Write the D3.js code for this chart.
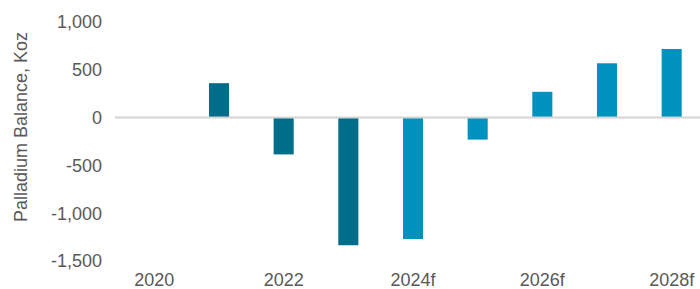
<!DOCTYPE html>
<html>
<head>
<meta charset="utf-8">
<script src="https://cdn.jsdelivr.net/npm/d3@7"></script>
<style>
  body { margin: 0; background: #fff; }
  svg { display: block; font-family: "Liberation Sans", Arial, sans-serif; }
</style>
</head>
<body>
<div id="chart"></div>
<script>
// palladium market balance, Koz (f = forecast)
const years = ['2020', '2021', '2022', '2023', '2024f', '2025f', '2026f', '2027f', '2028f'];
const balance = [0, 360, -385, -1335, -1270, -230, 270, 568, 718];
const isForecast = [false, false, false, false, true, true, true, true, true];
const yTicks = [-1500, -1000, -500, 0, 500, 1000];
const xLabels = ['2020', '2022', '2024f', '2026f', '2028f'];

const width = 700, height = 289;
const margin = { top: 22, right: -4, bottom: 28, left: 122 };

const data = years.map((y, i) => ({ year: y, value: balance[i], fc: isForecast[i] }));

const svg = d3.select('#chart')
  .append('svg')
  .attr('width', width)
  .attr('height', height);

const x = d3.scaleBand()
  .domain(years)
  .range([margin.left, width - margin.right])
  .paddingInner(0.69)
  .paddingOuter(0.345);

const y = d3.scaleLinear()
  .domain([-1500, 1000])
  .range([height - margin.bottom, margin.top]);

const fmt = d => d3.format(',')(d).replace('\u2212', '-');

// y tick labels
svg.append('g')
  .selectAll('text')
  .data(yTicks)
  .join('text')
  .attr('x', 102)
  .attr('y', d => y(d))
  .attr('dy', '0.35em')
  .attr('text-anchor', 'end')
  .style('font-size', '18px')
  .style('fill', '#595959')
  .text(fmt);

// x labels, every other year
svg.append('g')
  .selectAll('text')
  .data(xLabels)
  .join('text')
  .attr('x', d => x(d) + x.bandwidth() / 2)
  .attr('y', 286)
  .attr('text-anchor', 'middle')
  .style('font-size', '18px')
  .style('fill', '#595959')
  .text(d => d);

// axis title
svg.append('text')
  .attr('transform', 'translate(27, 127) rotate(-90)')
  .attr('text-anchor', 'middle')
  .style('font-size', '18px')
  .style('fill', '#595959')
  .text('Palladium Balance, Koz');

// bars
svg.append('g')
  .selectAll('rect')
  .data(data)
  .join('rect')
  .attr('x', d => x(d.year))
  .attr('width', x.bandwidth())
  .attr('y', d => y(Math.max(0, d.value)))
  .attr('height', d => Math.abs(y(d.value) - y(0)))
  .style('fill', d => d.fc ? '#0092be' : '#006d8b');

// zero line
svg.append('line')
  .attr('x1', 115)
  .attr('x2', width)
  .attr('y1', y(0))
  .attr('y2', y(0))
  .style('stroke', '#d4d4d4')
  .style('stroke-width', 2);
</script>
</body>
</html>
